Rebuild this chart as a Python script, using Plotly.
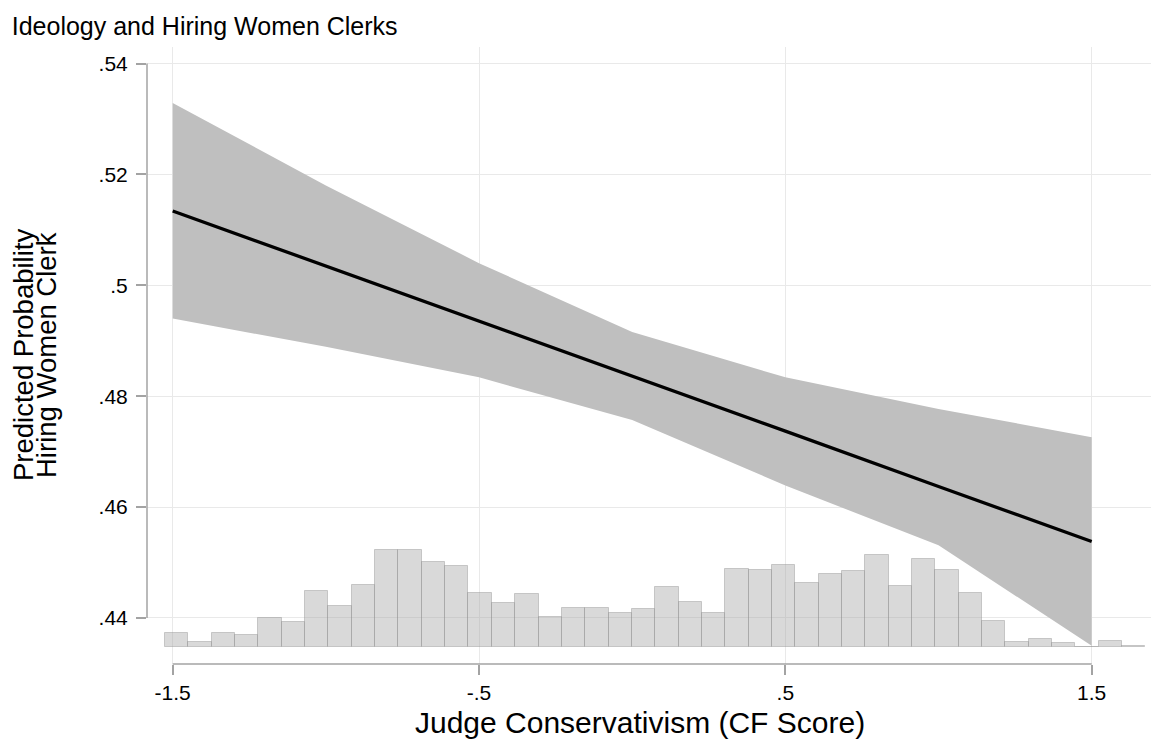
import plotly.graph_objects as go

# Predicted probability of hiring a woman clerk at selected CF scores
cf_points = [-1.5, -1.0, -0.5, 0.0, 0.5, 1.0, 1.5]
pred_prob = [0.5134, 0.5035, 0.4935, 0.4836, 0.4737, 0.4637, 0.4538]
ci_upper = [0.5329, 0.5180, 0.5040, 0.4916, 0.4834, 0.4777, 0.4726]
ci_lower = [0.4940, 0.4889, 0.4834, 0.4757, 0.4639, 0.4531, 0.4350]

# Distribution of judge CF scores (percent of judges per bin)
hist_start = -1.525
hist_width = 0.0762
hist_pct = [0.69, 0.24, 0.69, 0.60, 1.47, 1.27, 2.86, 2.09, 3.17, 4.97,
            4.97, 4.35, 4.14, 2.76, 2.24, 2.71, 1.53, 1.99, 1.99, 1.73,
            1.94, 3.07, 2.30, 1.73, 3.99, 3.94, 4.20, 3.27, 3.73, 3.89,
            4.71, 3.12, 4.50, 3.94, 2.76, 1.32, 0.24, 0.40, 0.19, 0.00,
            0.29, 0.05]
hist_mid = [hist_start + hist_width * (i + 0.5) for i in range(len(hist_pct))]

x_ticks = [-1.5, -0.5, 0.5, 1.5]
x_ticktext = ["-1.5", "-.5", ".5", "1.5"]
y_ticks = [0.44, 0.46, 0.48, 0.50, 0.52, 0.54]
y_ticktext = [".44", ".46", ".48", ".5", ".52", ".54"]

FONT = "Liberation Sans, Arial, sans-serif"
AXIS_GREY = "#a3a3a3"
GRID_GREY = "#e9e9e9"

W, H = 1153, 751
ML, MR, MT, MB = 147, 2, 47, 87

fig = go.Figure()

# confidence band
fig.add_trace(go.Scatter(
    x=cf_points + cf_points[::-1],
    y=ci_upper + ci_lower[::-1],
    fill="toself", fillcolor="#bfbfbf",
    line=dict(width=0), mode="lines", hoverinfo="skip", showlegend=False,
))
# predicted probability
fig.add_trace(go.Scatter(
    x=cf_points, y=pred_prob, mode="lines",
    line=dict(color="black", width=3.3), showlegend=False,
))
# histogram of CF scores on a hidden overlaying axis
fig.add_trace(go.Bar(
    x=hist_mid, y=hist_pct, width=hist_width, yaxis="y2",
    marker=dict(color="rgba(165,165,165,0.42)",
                line=dict(color="rgba(140,140,140,0.4)", width=1)),
    showlegend=False,
))

fig.update_layout(
    width=W, height=H,
    margin=dict(l=ML, r=MR, t=MT, b=MB),
    plot_bgcolor="white", paper_bgcolor="white",
    font=dict(family=FONT, color="black"),
    bargap=0,
    title=dict(text="Ideology and Hiring Women Clerks", xref="container",
               yref="container", x=0.0102, xanchor="left", y=1 - 26 / H,
               yanchor="middle", font=dict(size=25, family=FONT, color="black")),
    xaxis=dict(
        range=[-1.5839, 1.6936], tickvals=x_ticks, ticktext=x_ticktext,
        showgrid=True, gridcolor=GRID_GREY, gridwidth=1.3,
        zeroline=False, showline=False,
        ticks="outside", ticklen=10, tickwidth=1.5, tickcolor=AXIS_GREY,
        tickfont=dict(size=21),
    ),
    yaxis=dict(
        range=[0.4317, 0.54298], tickvals=y_ticks, ticktext=y_ticktext,
        showgrid=True, gridcolor=GRID_GREY, gridwidth=1.3,
        zeroline=False, showline=False,
        ticks="outside", ticklen=10, tickwidth=1.5, tickcolor=AXIS_GREY,
        tickfont=dict(size=21), ticklabelstandoff=4,
    ),
    yaxis2=dict(range=[-0.889, 30.80], overlaying="y", visible=False),
)

# axis lines spanning the labelled tick range only
fig.add_shape(type="line", xref="x", yref="paper",
              x0=x_ticks[0], x1=x_ticks[-1], y0=0, y1=0,
              line=dict(color=AXIS_GREY, width=1.5))
fig.add_shape(type="line", xref="paper", yref="y",
              x0=0, x1=0, y0=y_ticks[0], y1=y_ticks[-1],
              line=dict(color=AXIS_GREY, width=1.5))

plot_w = W - ML - MR
plot_h = H - MT - MB

# horizontal axis title
fig.add_annotation(text="Judge Conservativism (CF Score)",
                   xref="paper", yref="paper",
                   x=(640 - ML) / plot_w, y=-(722 - (H - MB)) / plot_h,
                   xanchor="center", yanchor="middle", showarrow=False,
                   font=dict(size=30, family=FONT, color="black"))

# two-line vertical axis title
for txt, xpx in [("Predicted Probability", 23.5), ("Hiring Women Clerk", 46.5)]:
    fig.add_annotation(text=txt, textangle=-90, xref="paper", yref="paper",
                       x=(xpx - ML) / plot_w, y=0.5,
                       xanchor="center", yanchor="middle", showarrow=False,
                       font=dict(size=27.5, family=FONT, color="black"))

fig.write_html("out.html")
